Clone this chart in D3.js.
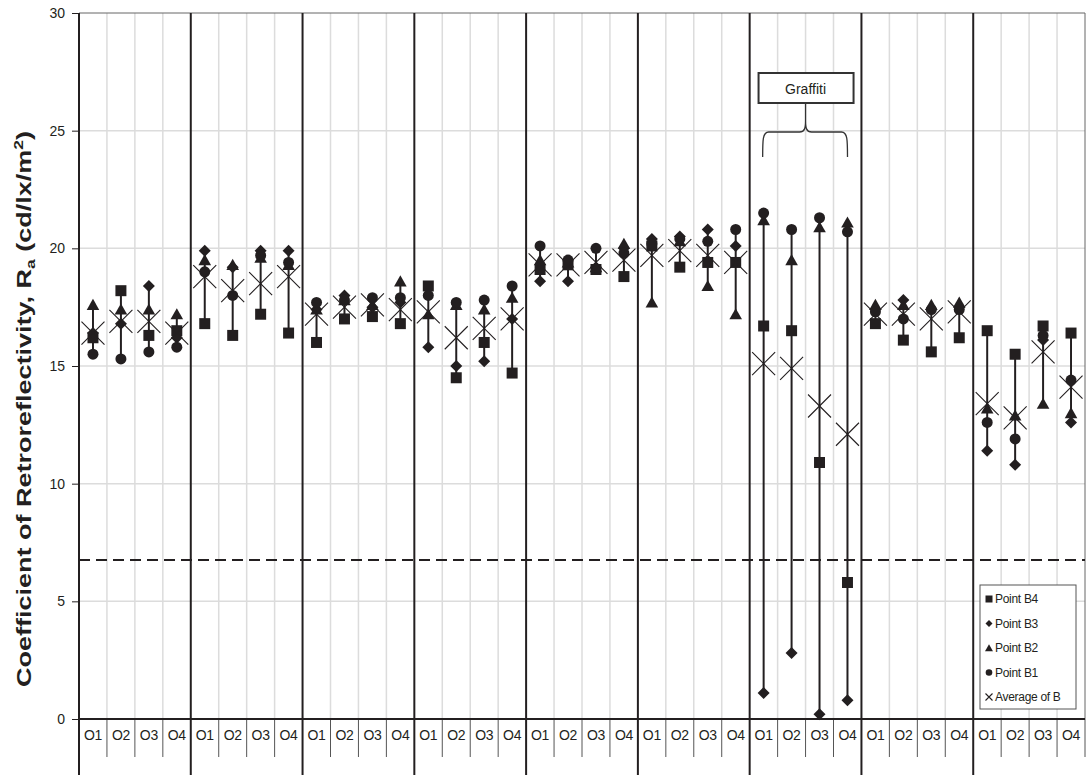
<!DOCTYPE html>
<html>
<head>
<meta charset="utf-8">
<script src="https://cdn.jsdelivr.net/npm/d3@7"></script>
<style>
	body { margin: 0; background: #fff; }
	svg { font-family: Arial, "Liberation Sans", sans-serif; }
</style>
</head>
<body>
<svg width="1089" height="775"></svg>
<script>
// nine sites, four observations each
const groupCount = 9;
const positions = ["O1", "O2", "O3", "O4"];
const yTicks = [0, 5, 10, 15, 20, 25, 30];
const minimumLevel = 6.76;

const pointB4 = [
	16.2, 18.2, 16.3, 16.5,  16.8, 16.3, 17.2, 16.4,  16.0, 17.0, 17.1, 16.8,
	18.4, 14.5, 16.0, 14.7,  19.1, 19.3, 19.1, 18.8,  20.1, 19.2, 19.4, 19.4,
	16.7, 16.5, 10.9, 5.8,   16.8, 16.1, 15.6, 16.2,  16.5, 15.5, 16.7, 16.4
];
const pointB3 = [
	16.4, 16.8, 18.4, 16.2,  19.9, 19.2, 19.9, 19.9,  17.4, 18.0, 17.5, 17.7,
	15.8, 15.0, 15.2, 17.0,  18.6, 18.6, 19.2, 20.0,  20.4, 20.5, 20.8, 20.1,
	1.1, 2.8, 0.2, 0.8,      17.4, 17.8, 17.4, 17.5,  11.4, 10.8, 16.1, 12.6
];
const pointB2 = [
	17.6, 17.4, 17.4, 17.2,  19.5, 19.3, 19.6, 19.3,  17.4, 17.8, 17.6, 18.6,
	17.2, 17.6, 17.4, 17.9,  19.5, 19.4, 19.2, 20.2,  17.7, 20.3, 18.4, 17.2,
	21.2, 19.5, 20.9, 21.1,  17.6, 17.6, 17.6, 17.7,  13.2, 12.9, 13.4, 13.0
];
const pointB1 = [
	15.5, 15.3, 15.6, 15.8,  19.0, 18.0, 19.7, 19.4,  17.7, 17.8, 17.9, 17.9,
	18.0, 17.7, 17.8, 18.4,  20.1, 19.5, 20.0, 19.8,  20.2, 20.4, 20.3, 20.8,
	21.5, 20.8, 21.3, 20.7,  17.3, 17.0, 17.4, 17.4,  12.6, 11.9, 16.3, 14.4
];
const averageB = [
	16.4, 16.9, 16.9, 16.4,  18.8, 18.2, 18.5, 18.8,  17.2, 17.5, 17.6, 17.4,
	17.3, 16.2, 16.6, 17.0,  19.3, 19.3, 19.4, 19.5,  19.7, 19.9, 19.7, 19.4,
	15.1, 14.9, 13.3, 12.1,  17.2, 17.2, 17.0, 17.3,  13.4, 12.8, 15.6, 14.1
];

const ink = "#231f20";

var svg = d3.select("svg");
var plotLeft = 79, plotRight = 1085, plotTop = 13, plotBottom = 719;

var keys = [];
for (var g = 0; g < groupCount; g++) {
	positions.forEach((p) => keys.push(g + "-" + p));
}

var x = d3.scaleBand().domain(keys).range([plotLeft, plotRight]).padding(0);
var y = d3.scaleLinear().domain([0, 30]).range([plotBottom, plotTop]);
var cx = (k) => x(k) + x.bandwidth() / 2;

// marker shapes, centred on 0,0
function square(s) { return "M" + (-s) + "," + (-s) + "H" + s + "V" + s + "H" + (-s) + "Z"; }
function diamond(s) { return "M0," + (-s) + "L" + s + ",0L0," + s + "L" + (-s) + ",0Z"; }
function triangle(s) { return "M0," + (-s) + "L" + (s * 1.05) + "," + (s * 0.85) + "L" + (-s * 1.05) + "," + (s * 0.85) + "Z"; }
function circle(s) { return "M" + (-s) + ",0A" + s + "," + s + " 0 1,0 " + s + ",0A" + s + "," + s + " 0 1,0 " + (-s) + ",0Z"; }
function cross(s) { return "M" + (-s) + "," + (-s) + "L" + s + "," + s + "M" + s + "," + (-s) + "L" + (-s) + "," + s; }

// gridlines
var grid = svg.append("g").attr("class", "grid");
grid.selectAll("line.h")
	.data(yTicks.filter((t) => t > 0 && t < 30))
	.enter().append("line")
	.attr("x1", plotLeft).attr("x2", plotRight)
	.attr("y1", (d) => y(d)).attr("y2", (d) => y(d))
	.attr("stroke", "#dcdcdc").attr("stroke-width", 1.5);

grid.selectAll("line.v")
	.data(keys.filter((k, i) => i % 4 !== 0))
	.enter().append("line")
	.attr("x1", (d) => x(d)).attr("x2", (d) => x(d))
	.attr("y1", plotTop).attr("y2", plotBottom)
	.attr("stroke", "#dcdcdc").attr("stroke-width", 1.5);

// plot frame top / right
svg.append("line").attr("x1", plotLeft).attr("x2", plotRight).attr("y1", plotTop).attr("y2", plotTop)
	.attr("stroke", "#666").attr("stroke-width", 1);
svg.append("line").attr("x1", plotRight).attr("x2", plotRight).attr("y1", plotTop).attr("y2", plotBottom)
	.attr("stroke", "#666").attr("stroke-width", 1);

// minimum level dashed line
svg.append("line")
	.attr("x1", plotLeft).attr("x2", plotRight)
	.attr("y1", y(minimumLevel)).attr("y2", y(minimumLevel))
	.attr("stroke", ink).attr("stroke-width", 2)
	.attr("stroke-dasharray", "11,6");

// category separators below the axis
svg.append("g").selectAll("line")
	.data(keys.filter((k, i) => i % 4 !== 0).map((k) => x(k)).concat([plotRight]))
	.enter().append("line")
	.attr("x1", (d) => d).attr("x2", (d) => d)
	.attr("y1", plotBottom).attr("y2", 757)
	.attr("stroke", "#555").attr("stroke-width", 1);

// group dividers
var dividers = d3.range(groupCount).map((g) => x(g + "-O1"));
svg.append("g").selectAll("line")
	.data(dividers)
	.enter().append("line")
	.attr("x1", (d) => d).attr("x2", (d) => d)
	.attr("y1", plotTop).attr("y2", 775)
	.attr("stroke", ink).attr("stroke-width", 2);

// x axis
svg.append("line").attr("x1", plotLeft).attr("x2", plotRight).attr("y1", plotBottom).attr("y2", plotBottom)
	.attr("stroke", ink).attr("stroke-width", 2);

svg.append("g").selectAll("text")
	.data(keys)
	.enter().append("text")
	.attr("x", (d) => cx(d))
	.attr("y", 740)
	.attr("text-anchor", "middle")
	.attr("font-size", 14)
	.attr("letter-spacing", -0.3)
	.attr("fill", ink)
	.text((d) => d.split("-")[1]);

// y axis
var yAxis = svg.append("g")
	.attr("transform", "translate(" + plotLeft + ",0)")
	.call(d3.axisLeft(y).tickValues(yTicks).tickSize(7).tickPadding(7));
yAxis.select(".domain").remove();
yAxis.selectAll(".tick line").attr("stroke", ink).attr("stroke-width", 1);
yAxis.selectAll(".tick text").attr("font-size", 14).attr("fill", ink)
	.attr("font-family", "Arial, 'Liberation Sans', sans-serif");
svg.append("line").attr("x1", plotLeft).attr("x2", plotLeft).attr("y1", plotTop).attr("y2", plotBottom)
	.attr("stroke", ink).attr("stroke-width", 2);

// y title
var title = svg.append("text")
	.attr("transform", "translate(31,409) rotate(-90)")
	.attr("text-anchor", "middle")
	.attr("font-size", 20)
	.attr("font-weight", "bold")
	.attr("textLength", 556)
	.attr("lengthAdjust", "spacingAndGlyphs")
	.attr("fill", ink);
title.append("tspan").text("Coefficient of Retroreflectivity, R");
title.append("tspan").attr("font-size", 13).attr("dy", 4).text("a");
title.append("tspan").attr("dy", -4).text(" (cd/lx/m");
title.append("tspan").attr("font-size", 13).attr("dy", -8).text("2");
title.append("tspan").attr("dy", 8).text(")");

// high-low lines
var ranges = keys.map((k, i) => {
	var vals = [pointB4[i], pointB3[i], pointB2[i], pointB1[i], averageB[i]];
	return { key: k, lo: d3.min(vals), hi: d3.max(vals) };
});
svg.append("g").selectAll("line")
	.data(ranges)
	.enter().append("line")
	.attr("x1", (d) => cx(d.key)).attr("x2", (d) => cx(d.key))
	.attr("y1", (d) => y(d.lo)).attr("y2", (d) => y(d.hi))
	.attr("stroke", ink).attr("stroke-width", 2);

// markers
var series = [
	{ name: "Point B4", values: pointB4, shape: square, size: 5.5, legendSize: 3.5 },
	{ name: "Point B3", values: pointB3, shape: diamond, size: 6, legendSize: 3.5 },
	{ name: "Point B2", values: pointB2, shape: triangle, size: 6, legendSize: 3.8 },
	{ name: "Point B1", values: pointB1, shape: circle, size: 5.5, legendSize: 3.3 }
];

series.forEach((s) => {
	svg.append("g").selectAll("path")
		.data(s.values)
		.enter().append("path")
		.attr("transform", (d, i) => "translate(" + cx(keys[i]) + "," + y(d) + ")")
		.attr("d", s.shape(s.size))
		.attr("fill", ink);
});

svg.append("g").selectAll("path")
	.data(averageB)
	.enter().append("path")
	.attr("transform", (d, i) => "translate(" + cx(keys[i]) + "," + y(d) + ")")
	.attr("d", cross(11.5))
	.attr("fill", "none")
	.attr("stroke", ink)
	.attr("stroke-width", 1.1);

// graffiti annotation
var gx = (x("6-O1") + x("6-O4") + x.bandwidth()) / 2;
svg.append("rect")
	.attr("x", gx - 47).attr("y", 73).attr("width", 95).attr("height", 30)
	.attr("fill", "#fff").attr("stroke", "#333").attr("stroke-width", 2);
svg.append("text")
	.attr("x", gx).attr("y", 94)
	.attr("text-anchor", "middle").attr("font-size", 14).attr("fill", ink)
	.text("Graffiti");
var bl = x("6-O1") + 13, br = x("6-O4") + 14;
svg.append("path")
	.attr("d", "M" + gx + ",103V121" +
		"M" + bl + ",157C" + bl + ",140 " + bl + ",132 " + (bl + 6) + ",132" +
		"H" + (gx - 6) + "C" + (gx - 1) + ",132 " + gx + ",128 " + gx + ",121" +
		"C" + gx + ",128 " + (gx + 1) + ",132 " + (gx + 6) + ",132" +
		"H" + (br - 6) + "C" + br + ",132 " + br + ",140 " + br + ",157")
	.attr("fill", "none").attr("stroke", "#333").attr("stroke-width", 1.3);

// legend
var legend = svg.append("g").attr("transform", "translate(980,585)");
legend.append("rect")
	.attr("width", 96).attr("height", 124)
	.attr("fill", "#fff").attr("stroke", "#555").attr("stroke-width", 1);
var legendItems = series.map((s) => ({ name: s.name, shape: s.shape, size: s.legendSize, cross: false }))
	.concat([{ name: "Average of B", shape: cross, size: 3.5, cross: true }]);
var li = legend.selectAll("g.item")
	.data(legendItems)
	.enter().append("g")
	.attr("transform", (d, i) => "translate(0," + (14 + i * 24.5) + ")");
li.append("path")
	.attr("transform", "translate(9,0)")
	.attr("d", (d) => d.shape(d.size))
	.attr("fill", (d) => d.cross ? "none" : ink)
	.attr("stroke", (d) => d.cross ? ink : "none")
	.attr("stroke-width", 1.1);
li.append("text")
	.attr("x", 15).attr("y", 4)
	.attr("font-size", 12)
	.attr("letter-spacing", -0.3)
	.attr("fill", ink)
	.text((d) => d.name);
</script>
</body>
</html>
